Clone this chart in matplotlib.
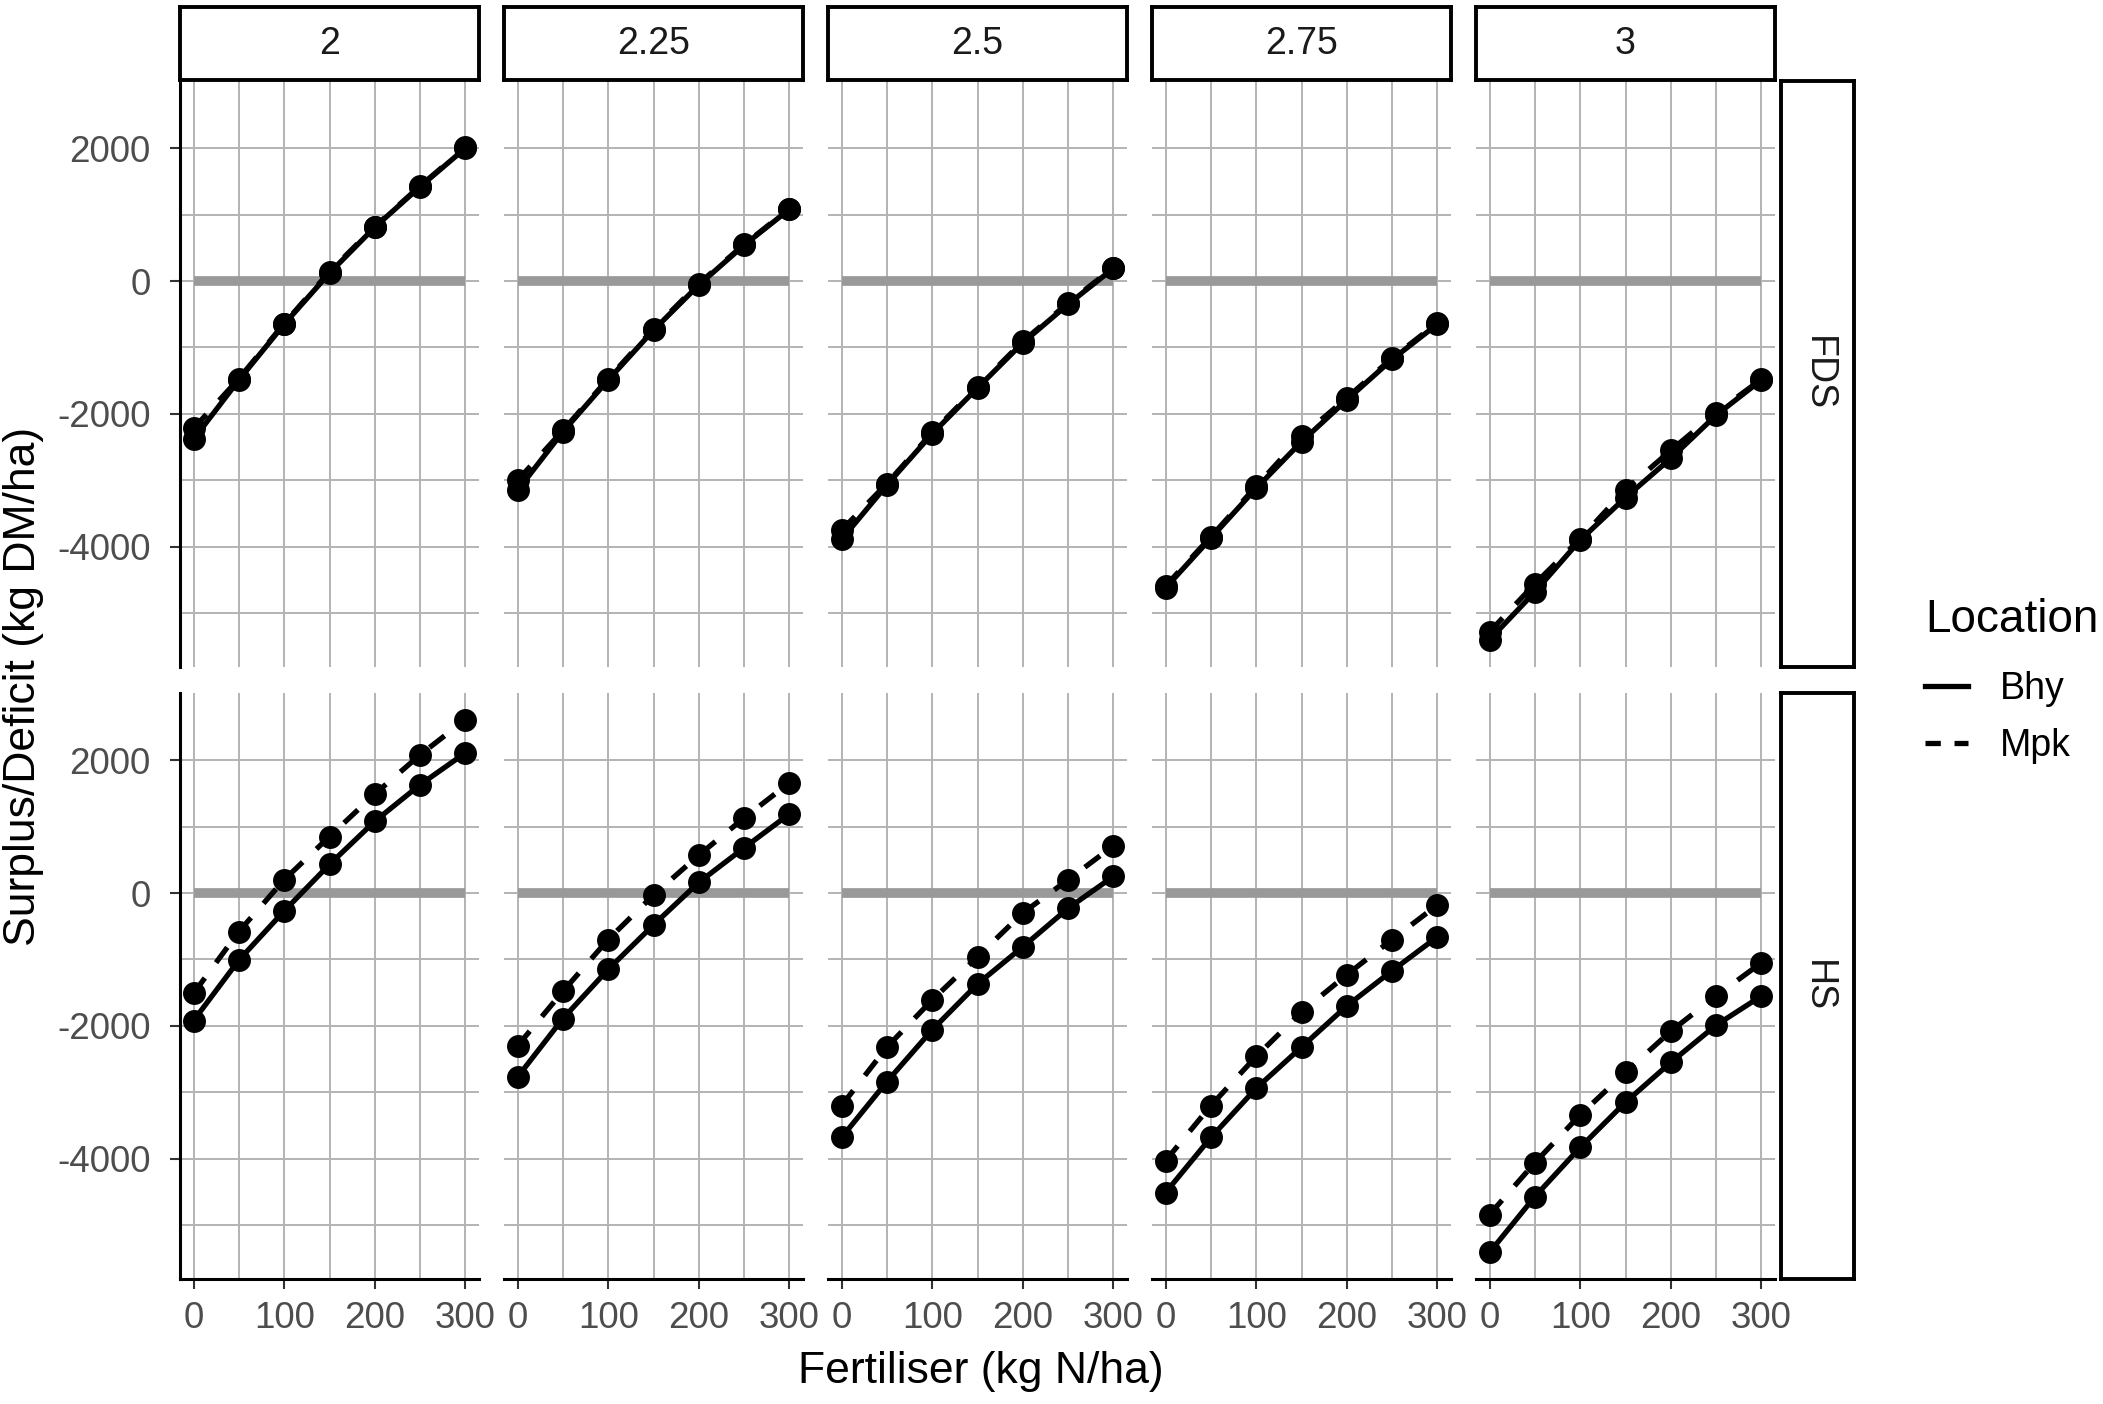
import matplotlib
matplotlib.use("Agg")
import matplotlib.pyplot as plt
from matplotlib.lines import Line2D
import numpy as np

plt.rcParams['font.family'] = ['Liberation Sans', 'DejaVu Sans']
plt.rcParams['axes.unicode_minus'] = False

# ---------------- data ----------------
fert = [0, 50, 100, 150, 200, 250, 300]
ratios = ["2", "2.25", "2.5", "2.75", "3"]
seasons = ["FDS", "HS"]
locations = ["Bhy", "Mpk"]

fds_bhy = [
    [-2380, -1490, -650, 120, 810, 1420, 2000],
    [-3150, -2270, -1490, -740, -60, 540, 1080],
    [-3890, -3070, -2300, -1610, -930, -350, 190],
    [-4620, -3870, -3120, -2420, -1790, -1180, -650],
    [-5400, -4680, -3900, -3260, -2670, -2020, -1490],
]
fds_mpk = [
    [-2220, -1470, -640, 140, 820, 1430, 2010],
    [-3000, -2250, -1470, -720, -40, 550, 1090],
    [-3750, -3050, -2280, -1590, -910, -330, 200],
    [-4590, -3850, -3090, -2340, -1760, -1160, -630],
    [-5280, -4560, -3880, -3140, -2550, -1980, -1480],
]
hs_bhy = [
    [-1920, -1010, -270, 430, 1080, 1630, 2110],
    [-2770, -1890, -1150, -480, 160, 680, 1190],
    [-3680, -2840, -2060, -1370, -810, -230, 250],
    [-4510, -3680, -2940, -2320, -1700, -1170, -660],
    [-5410, -4570, -3830, -3150, -2550, -1990, -1550],
]
hs_mpk = [
    [-1510, -580, 200, 850, 1490, 2080, 2610],
    [-2300, -1480, -700, -30, 570, 1130, 1660],
    [-3200, -2320, -1610, -960, -300, 200, 710],
    [-4030, -3200, -2460, -1790, -1230, -700, -180],
    [-4840, -4060, -3340, -2700, -2080, -1550, -1050],
]

x_major = [0, 100, 200, 300]
x_minor = [50, 150, 250]
y_major = [-4000, -2000, 0, 2000]
y_minor = [-5000, -3000, -1000, 1000]

series = {"FDS": (fds_bhy, fds_mpk), "HS": (hs_bhy, hs_mpk)}

# ---------------- layout ----------------
W, H = 2103, 1404
fig = plt.figure(figsize=(W / 100, H / 100), dpi=100)


def rect(x0, y0, x1, y1):
    return [x0 / W, 1 - y1 / H, (x1 - x0) / W, (y1 - y0) / H]


col_left = [180 + 324 * i for i in range(5)]
pw = 299
row_top = [81, 693]
ph = 586

allv = np.concatenate([np.ravel(a) for a in (fds_bhy, fds_mpk, hs_bhy, hs_mpk)])
ymin, ymax = allv.min(), allv.max()
yr = ymax - ymin
ylim = (ymin - 0.05 * yr, ymax + 0.05 * yr)
xr = max(fert) - min(fert)
xlim = (min(fert) - 0.05 * xr, max(fert) + 0.05 * xr)

grid_col = '#b3b3b3'
lw_data = 3.8
dash = (0, (3.6, 3.6))
ms = 15.5
tick_fs = 26.5
strip_fs = 27

for r, season in enumerate(seasons):
    bhy_all, mpk_all = series[season]
    for c, ratio in enumerate(ratios):
        x0 = col_left[c]
        y0 = row_top[r]
        ax = fig.add_axes(rect(x0, y0, x0 + pw, y0 + ph))
        ax.set_xlim(*xlim)
        ax.set_ylim(*ylim)
        ax.set_xticks(x_major)
        ax.set_xticks(x_minor, minor=True)
        ax.set_yticks(y_major)
        ax.set_yticks(y_minor, minor=True)
        ax.grid(which='both', color=grid_col, lw=1.4)
        ax.set_axisbelow(True)
        for s in ['top', 'right']:
            ax.spines[s].set_visible(False)
        ax.spines['left'].set_visible(c == 0)
        ax.spines['bottom'].set_visible(r == 1)
        for s in ['left', 'bottom']:
            ax.spines[s].set_linewidth(2.2)
            ax.spines[s].set_color('black')
        ax.tick_params(which='minor', length=0)
        ax.tick_params(axis='both', which='major', length=7, width=1.5,
                       color='#333333', labelsize=tick_fs, labelcolor='#4d4d4d')
        ax.tick_params(axis='x', pad=9, bottom=(r == 1), labelbottom=(r == 1))
        ax.tick_params(axis='y', pad=14, left=(c == 0), labelleft=(c == 0))

        ax.hlines(0, min(fert), max(fert), color='#999999', lw=7, zorder=2)
        ax.plot(fert, bhy_all[c], color='black', lw=lw_data, ls='-',
                marker='o', ms=ms, zorder=3, label=locations[0])
        ax.plot(fert, mpk_all[c], color='black', lw=lw_data, ls=dash,
                marker='o', ms=ms, zorder=3, label=locations[1])

        # top strip
        if r == 0:
            sax = fig.add_axes(rect(x0, 7, x0 + pw, 80))
            sax.set_xticks([]); sax.set_yticks([])
            for s in sax.spines.values():
                s.set_linewidth(2.8); s.set_color('black')
            sax.text(0.5, 0.5, ratio, ha='center', va='center',
                     fontsize=strip_fs, color='#1a1a1a', transform=sax.transAxes)
    # right strip
    rax = fig.add_axes(rect(1781, row_top[r], 1854, row_top[r] + ph))
    rax.set_xticks([]); rax.set_yticks([])
    for s in rax.spines.values():
        s.set_linewidth(2.8); s.set_color('black')
    rax.text(0.5, 0.5, season, ha='center', va='center', rotation=-90,
             fontsize=strip_fs, color='#1a1a1a', transform=rax.transAxes)

# axis titles
fig.text(981 / W, 1 - 1371 / H, "Fertiliser (kg N/ha)", ha='center', va='center',
         fontsize=32, color='black')
fig.text(24 / W, 1 - 686 / H, "Surplus/Deficit (kg DM/ha)", ha='center', va='center',
         rotation=90, fontsize=32, color='black')

# legend
handles = [Line2D([], [], color='black', lw=lw_data, ls='-'),
           Line2D([], [], color='black', lw=lw_data, ls=(0, (2.9, 2.6)))]
leg = fig.legend(handles, locations, title='Location', loc='upper left',
                 bbox_to_anchor=(1925 / W, 1 - 598 / H), frameon=False,
                 fontsize=27, title_fontsize=33, handlelength=1.15,
                 handletextpad=0.85, labelspacing=0.55, alignment='left',
                 borderaxespad=0, borderpad=0)
leg._legend_box.sep = 21

fig.savefig("out.png", dpi=100)
